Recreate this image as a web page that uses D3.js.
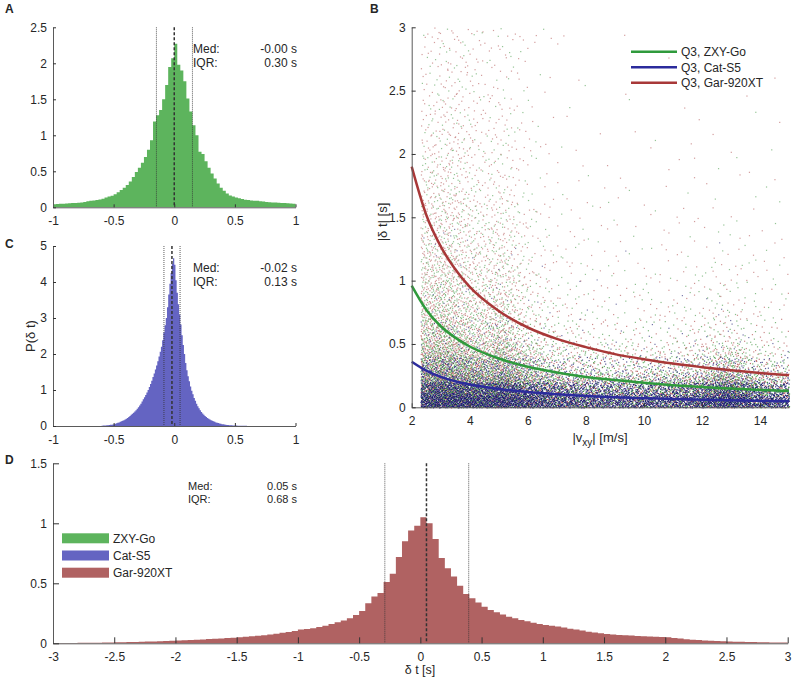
<!DOCTYPE html>
<html><head><meta charset="utf-8">
<script src="https://cdn.jsdelivr.net/npm/d3@7"></script>
<style>
body{margin:0;background:#fff}
text{font-family:"Liberation Sans",Arial,Helvetica,sans-serif;fill:#262626}
</style>
</head><body>
<svg id="chart" width="792" height="682"></svg>
<script>
// ---------------- DATA ----------------
// Panel A histogram (ZXY-Go), bins of 0.025 from -1
const histAStart = -1, histAWidth = 0.025;
const histAValues = [
 0.042,0.045,0.048,0.05,0.052,0.055,0.058,0.06,0.062,0.068,
 0.075,0.085,0.09,0.095,0.1,0.11,0.12,0.135,0.15,0.16,
 0.18,0.21,0.24,0.27,0.31,0.36,0.42,0.49,0.55,0.62,
 0.7,0.8,0.93,1.19,1.28,1.35,1.5,1.7,1.95,2.07,
 2.27,1.98,1.9,1.75,1.51,1.33,1.14,1.0,0.77,0.74,
 0.64,0.55,0.47,0.4,0.33,0.27,0.23,0.19,0.165,0.15,
 0.135,0.125,0.115,0.105,0.1,0.095,0.09,0.09,0.085,0.08,
 0.075,0.07,0.068,0.065,0.062,0.06,0.058,0.055,0.052,0.05];
const statsA = {q1:-0.147, med:0.0, q3:0.15, medText:"-0.00 s", iqrText:"0.30 s"};

// Panel C histogram (Cat-S5), bins of 0.01 from -0.6
const histCStart = -0.6, histCWidth = 0.01;
const histCValues = [
 0.01,0.012,0.014,0.016,0.018,0.021,0.026,0.032,0.038,0.045,
 0.052,0.063,0.075,0.088,0.1,0.115,0.13,0.145,0.16,0.18,
 0.2,0.22,0.25,0.28,0.31,0.34,0.37,0.4,0.44,0.48,
 0.52,0.57,0.62,0.68,0.74,0.8,0.86,0.93,1.0,1.08,
 1.17,1.26,1.36,1.46,1.57,1.68,1.8,1.93,2.06,2.2,
 2.38,2.6,2.8,3.0,3.3,3.65,3.95,4.25,4.5,4.66,
 4.48,4.05,3.7,3.38,3.1,2.82,2.52,2.25,2.0,1.75,
 1.55,1.38,1.24,1.1,0.98,0.88,0.78,0.7,0.62,0.55,
 0.49,0.44,0.39,0.35,0.31,0.28,0.25,0.22,0.2,0.18,
 0.16,0.145,0.13,0.115,0.1,0.09,0.08,0.07,0.06,0.052,
 0.046,0.04,0.035,0.031,0.027,0.024,0.021,0.018,0.016,0.014,
 0.012,0.011,0.01,0.009,0.008,0.007,0.006,0.005,0.004,0.004];
const statsC = {q1:-0.085, med:-0.019, q3:0.048, medText:"-0.02 s", iqrText:"0.13 s"};

// Panel D histogram (Gar-920XT), bins of 0.05 from -3
const histDStart = -3, histDWidth = 0.05;
const histDValues = [
 0.002,0.002,0.003,0.003,0.004,0.004,0.005,0.005,0.006,0.007,
 0.008,0.009,0.01,0.011,0.012,0.014,0.016,0.018,0.02,0.022,
 0.024,0.026,0.028,0.03,0.032,0.035,0.038,0.041,0.044,0.047,
 0.05,0.054,0.058,0.063,0.068,0.074,0.08,0.087,0.095,0.103,
 0.115,0.12,0.125,0.136,0.147,0.16,0.175,0.19,0.208,0.236,
 0.27,0.333,0.39,0.42,0.51,0.58,0.72,0.85,0.94,0.98,
 1.05,1.0,0.87,0.71,0.625,0.556,0.48,0.41,0.375,0.34,
 0.305,0.278,0.258,0.24,0.222,0.208,0.194,0.183,0.172,0.161,
 0.153,0.147,0.139,0.131,0.122,0.114,0.106,0.097,0.09,0.083,
 0.078,0.074,0.07,0.067,0.064,0.061,0.058,0.056,0.054,0.052,
 0.05,0.044,0.039,0.034,0.03,0.027,0.024,0.021,0.019,0.017,
 0.015,0.013,0.012,0.011,0.01,0.009,0.008,0.007,0.006,0.006];
const statsD = {q1:-0.29, med:0.05, q3:0.395, medText:"0.05 s", iqrText:"0.68 s"};

// Panel B: Q3 curves
const q3Speed = [2,2.5,3,3.5,4,5,6,7,8,9,10,11,12,13,14,15];
const q3ZXY   = [0.96,0.77,0.64,0.55,0.48,0.385,0.32,0.275,0.24,0.215,0.193,0.175,0.16,0.148,0.137,0.128];
const q3Cat   = [0.36,0.29,0.24,0.205,0.18,0.145,0.12,0.103,0.09,0.08,0.072,0.066,0.06,0.055,0.051,0.048];
const q3Gar   = [1.9,1.52,1.27,1.09,0.95,0.76,0.63,0.54,0.475,0.42,0.38,0.345,0.317,0.292,0.271,0.253];

// Panel B: scatter density (% of area covered by dots) per speed column x |dt| band
const vxEdges = [2.3,2.8,3.3,3.8,4.3,4.8,5.3,5.8,6.5,7.5,8.5,9.5,10.5,11.5,12.2,13.5,14.2,15];
const dtEdges = [0,0.1,0.2,0.4,0.7,1.0,1.5,2.0,3.0];
const cover0 = [94,97,97,95,93,97,92,82,70,64,62,62,64,70,94,70,60];
const cover1 = [82,90,90,85,80,88,78,64,50,44,42,42,44,52,80,50,40];
const cover2 = [55,60,56,48,42,52,40,27,16,13,12,12,13,15,30,14,10];
const cover3 = [30,32,28,22,19,26,15,8,4.5,3.2,2.8,2.8,3,3.8,6.5,3,2];
const cover4 = [19,20,16,12,10,14,8,4.5,2.2,1.6,1.3,1.3,1.4,1.8,2.3,1.4,1];
const cover5 = [12,13,11,8,7,8.5,5,2.3,1.1,0.7,0.55,0.55,0.55,0.65,0.8,0.55,0.45];
const cover6 = [6.5,7.5,6.5,4.5,3.5,4,2.6,1,0.45,0.3,0.22,0.22,0.22,0.22,0.22,0.22,0.18];
const cover7 = [2.2,2.8,2.8,2.2,1.8,1.8,1.2,0.5,0.15,0.08,0.04,0.04,0.04,0.04,0.04,0.04,0.04];
// share of each device per band: [ZXY-Go, Cat-S5, Gar-920XT]
const bandMix = [[0.18,0.67,0.15],[0.25,0.55,0.2],[0.38,0.3,0.32],[0.45,0.1,0.45],
                 [0.45,0.05,0.5],[0.4,0.02,0.58],[0.35,0,0.65],[0.3,0,0.7]];
const bandOpacity = [0.95,0.88,0.72,0.6,0.55,0.5,0.5,0.5];

const devices = ["ZXY-Go","Cat-S5","Gar-920XT"];
const histColors = ["#5db45d","#6464c2","#b06262"];
const lineColors = ["#2f9a3c","#2b2b9c","#a83838"];
const dotColors  = ["#2e8b2e","#16166c","#a83c3c"];

// ---------------- DRAW ----------------
const svg = d3.select("#chart");
svg.append("rect").attr("width",792).attr("height",682).attr("fill","#fff");
const fmt = d => String(d);
const AX = "#5a5a5a";

function axes(g, x, y, xt, yt, tl, xpad){
  const gx = g.append("g").attr("transform",`translate(0,${y.range()[0]})`)
    .call(d3.axisBottom(x).tickValues(xt).tickFormat(fmt).tickSizeInner(-tl).tickSizeOuter(0).tickPadding(xpad));
  const gy = g.append("g").attr("transform",`translate(${x.range()[0]},0)`)
    .call(d3.axisLeft(y).tickValues(yt).tickFormat(fmt).tickSizeInner(-tl).tickSizeOuter(0).tickPadding(6));
  [gx,gy].forEach(a=>{
    a.select(".domain").attr("stroke",AX).attr("stroke-width",1);
    a.selectAll(".tick line").attr("stroke","#333");
    a.selectAll("text").attr("font-size",12).attr("fill","#262626")
      .attr("font-family",'"Liberation Sans",Arial,sans-serif');
  });
}
function hist(g, x, y, start, w, vals, color){
  const pts = vals.map((v,i)=>[start+i*w, v]);
  pts.push([start+vals.length*w, vals[vals.length-1]]);
  const area = d3.area().x(d=>x(d[0])).y0(y(0)).y1(d=>y(d[1])).curve(d3.curveStepAfter);
  g.append("path").datum(pts).attr("d",area).attr("fill",color);
}
function statLines(g, x, y, s){
  const top = y.range()[1], bot = y.range()[0];
  [s.q1,s.q3].forEach(v=>g.append("line").attr("x1",x(v)).attr("x2",x(v)).attr("y1",top).attr("y2",bot)
     .attr("stroke","#333").attr("stroke-width",0.8).attr("stroke-dasharray","1,1"));
  g.append("line").attr("x1",x(s.med)).attr("x2",x(s.med)).attr("y1",top).attr("y2",bot)
     .attr("stroke","#333").attr("stroke-width",1.5).attr("stroke-dasharray","3,2");
}
function statText(g, xl, xr, y1, y2, s, fs){
  g.append("text").attr("x",xl).attr("y",y1).attr("font-size",fs).text("Med:");
  g.append("text").attr("x",xl).attr("y",y2).attr("font-size",fs).text("IQR:");
  g.append("text").attr("x",xr).attr("y",y1).attr("font-size",fs).attr("text-anchor","end").text(s.medText);
  g.append("text").attr("x",xr).attr("y",y2).attr("font-size",fs).attr("text-anchor","end").text(s.iqrText);
}
function letter(t,x,y){ svg.append("text").attr("x",x).attr("y",y).attr("font-size",12).attr("font-weight","bold").attr("fill","#000").text(t); }

// Panel A
const xA = d3.scaleLinear().domain([-1,1]).range([53,295.5]);
const yA = d3.scaleLinear().domain([0,2.5]).range([207.3,27.3]);
const gA = svg.append("g");
hist(gA,xA,yA,histAStart,histAWidth,histAValues,histColors[0]);
statLines(gA,xA,yA,statsA);
axes(gA,xA,yA,[-1,-0.5,0,0.5,1],[0,0.5,1,1.5,2,2.5],3,9);
statText(gA,193,297,53,67,statsA,12);
letter("A",5,13);

// Panel C
const xC = d3.scaleLinear().domain([-1,1]).range([53,295.5]);
const yC = d3.scaleLinear().domain([0,5]).range([426,246]);
const gC = svg.append("g");
hist(gC,xC,yC,histCStart,histCWidth,histCValues,histColors[1]);
statLines(gC,xC,yC,statsC);
axes(gC,xC,yC,[-1,-0.5,0,0.5,1],[0,1,2,3,4,5],3,9);
statText(gC,193,297,272,286,statsC,12);
letter("C",5,248);
gC.append("text").attr("transform","translate(35,336) rotate(-90)").attr("text-anchor","middle").attr("font-size",13).text("P(δ t)");

// Panel D
const xD = d3.scaleLinear().domain([-3,3]).range([53,787.7]);
const yD = d3.scaleLinear().domain([0,1.5]).range([643.3,463.3]);
const gD = svg.append("g");
hist(gD,xD,yD,histDStart,histDWidth,histDValues,histColors[2]);
statLines(gD,xD,yD,statsD);
axes(gD,xD,yD,d3.range(-3,3.01,0.5).map(v=>+v.toFixed(1)),[0,0.5,1,1.5],6,9);
statText(gD,188,297,490,502.5,statsD,11);
letter("D",5,464);
gD.append("text").attr("x",420).attr("y",674).attr("text-anchor","middle").attr("font-size",12.5).text("δ t [s]");
// legend D
devices.forEach((d,i)=>{
  const cy = 538.3 + i*17.2;
  gD.append("rect").attr("x",62).attr("y",cy-5).attr("width",47).attr("height",10).attr("fill",histColors[i]);
  gD.append("text").attr("x",113).attr("y",cy+4.5).attr("font-size",12).text(d);
});

// Panel B
const xB = d3.scaleLinear().domain([2,15]).range([411.7,789]);
const yB = d3.scaleLinear().domain([0,3]).range([407.3,27.3]);
const gB = svg.append("g");
const covers = [cover0,cover1,cover2,cover3,cover4,cover5,cover6,cover7];
function halton(i,b){ let f=1,r=0; while(i>0){ f/=b; r+=f*(i%b); i=Math.floor(i/b);} return r; }
const colMid = vxEdges.slice(1).map((e,i)=>(e+vxEdges[i])/2);
const bandMid = dtEdges.slice(1).map((e,i)=>(e+dtEdges[i])/2);
function locate(mids, v){
  if(v<=mids[0]) return [0,0,0];
  if(v>=mids[mids.length-1]) return [mids.length-1,mids.length-1,0];
  for(let i=0;i<mids.length-1;i++) if(v<mids[i+1]) return [i,i+1,(v-mids[i])/(mids[i+1]-mids[i])];
}
function coverAt(vx, dt){
  const [c0,c1,tc] = locate(colMid,vx), [b0,b1,tb] = locate(bandMid,dt);
  const top = covers[b0][c0]*(1-tc)+covers[b0][c1]*tc;
  const bot = covers[b1][c0]*(1-tc)+covers[b1][c1]*tc;
  return (top*(1-tb)+bot*tb)/100;
}
const vxMin = vxEdges[0], vxMax = vxEdges[vxEdges.length-1];
const pts = [];
dtEdges.slice(0,-1).forEach((t0,j)=>{
  const t1 = dtEdges[j+1];
  const n = Math.round((xB(vxMax)-xB(vxMin))*(yB(t0)-yB(t1)));
  for(let idx=1; idx<=n; idx++){
    const vx = vxMin + halton(idx,2)*(vxMax-vxMin);
    const dt = t0 + halton(idx,3)*(t1-t0);
    if(halton(idx,5) >= coverAt(vx,dt)) continue;
    const u = halton(idx,7), mix = bandMix[j];
    const k = u < mix[0] ? 0 : (u < mix[0]+mix[1] ? 1 : 2);
    pts.push({vx, dt, k, o:bandOpacity[j]});
  }
});
[2,0,1].forEach(k=>{
  gB.append("g").attr("fill",dotColors[k])
    .selectAll("rect").data(pts.filter(p=>p.k===k)).join("rect")
    .attr("x",d=>xB(d.vx)).attr("y",d=>yB(d.dt)).attr("width",1.2).attr("height",1.2)
    .attr("fill-opacity",d=>d.o);
});
const line = d3.line().x((d,i)=>xB(q3Speed[i])).y(d=>yB(d)).curve(d3.curveMonotoneX);
[q3ZXY,q3Cat,q3Gar].forEach((s,i)=>{
  gB.append("path").datum(s).attr("d",line).attr("fill","none").attr("stroke",lineColors[i]).attr("stroke-width",2.5);
});
axes(gB,xB,yB,[2,4,6,8,10,12,14],[0,0.5,1,1.5,2,2.5,3],4,9);
letter("B",370,13);
gB.append("text").attr("transform","translate(387,222) rotate(-90)").attr("text-anchor","middle").attr("font-size",13).text("|δ t| [s]");
const xl = gB.append("text").attr("x",600).attr("y",442).attr("text-anchor","middle").attr("font-size",13);
xl.append("tspan").text("|v");
xl.append("tspan").attr("dy",4).attr("font-size",10).text("xy");
xl.append("tspan").attr("dy",-4).text("| [m/s]");
devices.forEach((d,i)=>{
  const cy = 51.7 + i*15.5;
  gB.append("line").attr("x1",631).attr("x2",677).attr("y1",cy).attr("y2",cy).attr("stroke",lineColors[i]).attr("stroke-width",2.5);
  gB.append("text").attr("x",681).attr("y",cy+4.5).attr("font-size",12).text("Q3, "+d);
});
</script>
</body></html>
